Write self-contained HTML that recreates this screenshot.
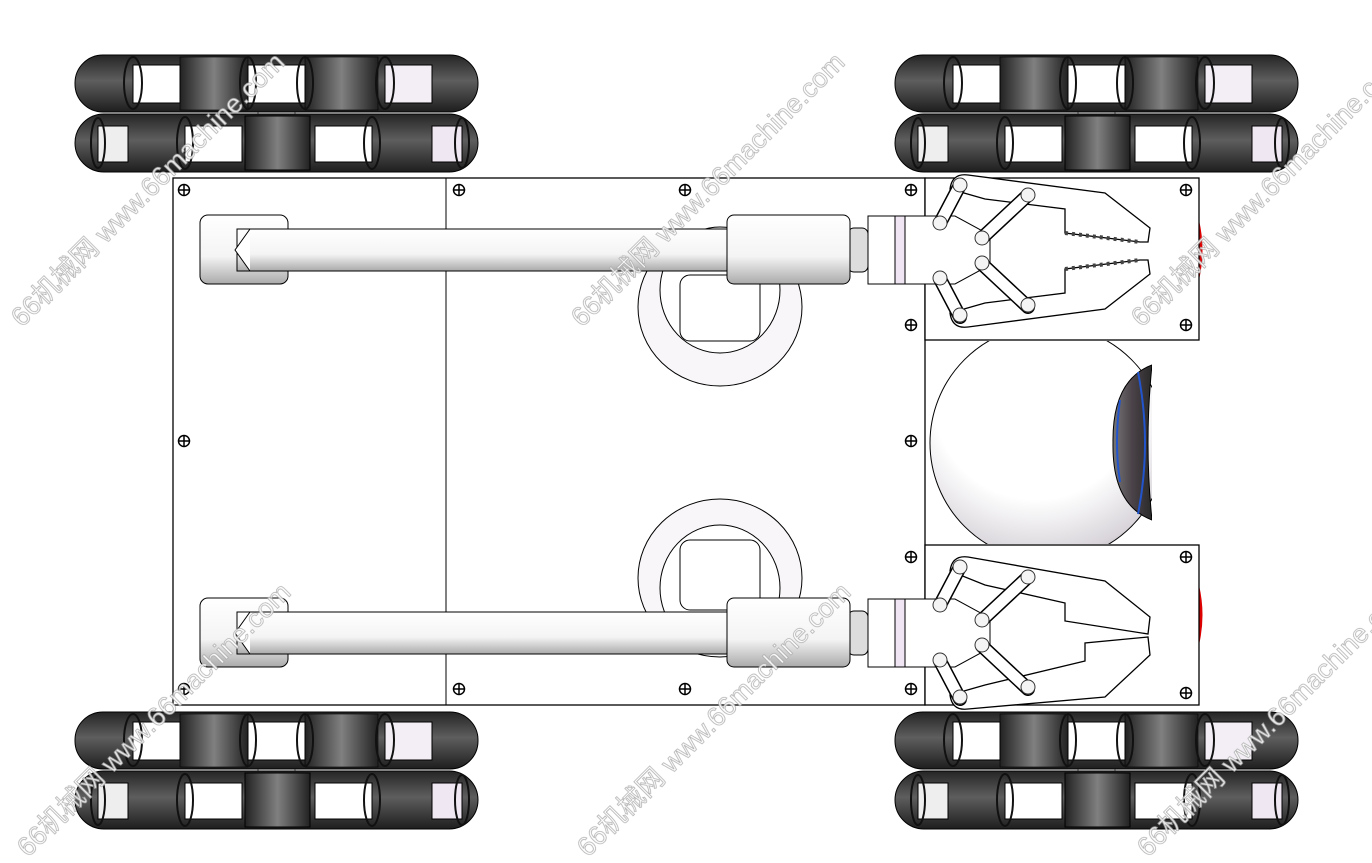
<!DOCTYPE html>
<html><head><meta charset="utf-8"><style>html,body{margin:0;padding:0;background:#fff}svg{display:block}</style></head>
<body>
<svg width="1372" height="863" viewBox="0 0 1372 863" xmlns="http://www.w3.org/2000/svg">
<defs>
<linearGradient id="dk" x1="0" y1="0" x2="0" y2="1">
<stop offset="0" stop-color="#252525"/><stop offset="0.45" stop-color="#5e5e5e"/><stop offset="1" stop-color="#1e1e1e"/></linearGradient>
<linearGradient id="dk2" x1="0" y1="0" x2="1" y2="0">
<stop offset="0" stop-color="#222"/><stop offset="0.5" stop-color="#808080"/><stop offset="1" stop-color="#222"/></linearGradient>
<linearGradient id="rod" x1="0" y1="0" x2="0" y2="1">
<stop offset="0" stop-color="#fff"/><stop offset="0.6" stop-color="#f4f4f4"/><stop offset="1" stop-color="#aaa"/></linearGradient>
<linearGradient id="cav" x1="0" y1="0" x2="1" y2="0">
<stop offset="0" stop-color="#777"/><stop offset="0.5" stop-color="#4a4248"/><stop offset="1" stop-color="#2a2a2a"/></linearGradient>
<radialGradient id="ball" cx="0.45" cy="0.3" r="0.8">
<stop offset="0.55" stop-color="#fff"/><stop offset="0.85" stop-color="#d8d4da"/><stop offset="1" stop-color="#9a949c"/></radialGradient>
<g id="screw"><circle r="5.5" fill="#fff" stroke="#000" stroke-width="1.5"/><path d="M-5.5 0H5.5M0-5.5V5.5" stroke="#000" stroke-width="1.5"/></g>
<g id="row1">
<rect x="0" y="0" width="403" height="57" rx="28" fill="url(#dk)" stroke="#000"/>
<rect x="105" y="2" width="68" height="53" fill="url(#dk2)" stroke="#000" stroke-width="0.6"/>
<rect x="230" y="2" width="73" height="53" fill="url(#dk2)" stroke="#000" stroke-width="0.6"/>
<rect x="58" y="10" width="47" height="38" fill="#fff" stroke="#000"/>
<rect x="173" y="10" width="57" height="38" fill="#fff" stroke="#000"/>
<rect x="310" y="10" width="47" height="38" fill="#f3eef5" stroke="#000"/>
<ellipse cx="58" cy="28" rx="9" ry="26" fill="none" stroke="#111" stroke-width="2"/>
<ellipse cx="173" cy="28" rx="8" ry="26" fill="none" stroke="#111" stroke-width="2"/>
<ellipse cx="230" cy="28" rx="8" ry="26" fill="none" stroke="#111" stroke-width="2"/>
<ellipse cx="310" cy="28" rx="9" ry="26" fill="none" stroke="#111" stroke-width="2"/>
</g>
<g id="row2">
<rect x="0" y="0" width="403" height="58" rx="29" fill="url(#dk)" stroke="#000"/>
<rect x="170" y="2" width="65" height="54" fill="url(#dk2)" stroke="#000"/>
<rect x="23" y="12" width="30" height="36" fill="#eee" stroke="#000"/>
<rect x="110" y="12" width="57" height="36" fill="#fff" stroke="#000"/>
<rect x="240" y="12" width="57" height="36" fill="#fff" stroke="#000"/>
<rect x="357" y="12" width="30" height="36" fill="#efe8f2" stroke="#000"/>
<ellipse cx="110" cy="29" rx="8" ry="26" fill="none" stroke="#111" stroke-width="2"/>
<ellipse cx="297" cy="29" rx="8" ry="26" fill="none" stroke="#111" stroke-width="2"/>
<ellipse cx="23" cy="29" rx="7" ry="25" fill="none" stroke="#111" stroke-width="2"/>
<ellipse cx="387" cy="29" rx="7" ry="25" fill="none" stroke="#111" stroke-width="2"/>
</g>
<g id="wheel">
<rect x="183" y="57" width="37" height="4" fill="#fff" stroke="#000" stroke-width="0.6"/>
<use href="#row1"/>
<use href="#row2" y="59"/>
</g>
<g id="arm">
<rect x="200" y="-35" width="88" height="69" rx="8" fill="url(#rod)" stroke="#000"/>
<rect x="237" y="-21" width="495" height="42" fill="url(#rod)" stroke="#000"/>
<path d="M250 -21 L235 0 L250 21" fill="#fff" stroke="#000"/>
<rect x="848" y="-22" width="20" height="44" rx="6" fill="#ddd" stroke="#000"/>
<rect x="727" y="-35" width="123" height="69" rx="7" fill="url(#rod)" stroke="#000"/>
<rect x="868" y="-34" width="27" height="68" fill="#fff" stroke="#000"/>
<rect x="895" y="-34" width="10" height="68" fill="#f0e6f3" stroke="#000"/>
<path d="M905 -34 H955 L990 -15 V15 L955 34 H905 Z" fill="#fff" stroke="#000"/>
</g>
<g id="links">
<g stroke="#000" stroke-width="14" stroke-linecap="round"><line x1="960" y1="-66" x2="940" y2="-28"/><line x1="1028" y1="-56" x2="982" y2="-13"/><line x1="960" y1="66" x2="940" y2="28"/><line x1="1028" y1="56" x2="982" y2="13"/></g>
<g stroke="#fff" stroke-width="11" stroke-linecap="round"><line x1="960" y1="-66" x2="940" y2="-28"/><line x1="1028" y1="-56" x2="982" y2="-13"/><line x1="960" y1="66" x2="940" y2="28"/><line x1="1028" y1="56" x2="982" y2="13"/></g>
<g fill="#f4f4f4" stroke="#333"><circle cx="960" cy="-66" r="7"/><circle cx="1028" cy="-56" r="7"/><circle cx="940" cy="-28" r="7"/><circle cx="982" cy="-13" r="7"/><circle cx="982" cy="12" r="7"/><circle cx="940" cy="27" r="7"/><circle cx="1028" cy="54" r="7"/><circle cx="960" cy="64" r="7"/></g>
</g>
<g id="grip">
<path d="M950 -62 Q952 -78 968 -76 L1105 -58 L1150 -23 L1148 -9 L1140 -9 L1065 -18 L1065 -42 L985 -52 Z" fill="#fff" stroke="#000" stroke-width="1.3"/>
<path d="M950 62 Q952 78 968 76 L1105 58 L1150 23 L1148 9 L1140 9 L1065 18 L1065 42 L985 52 Z" fill="#fff" stroke="#000" stroke-width="1.3"/>
<path d="M1065 -18 L1140 -9 M1065 18 L1140 9" stroke="#444" stroke-width="4" stroke-dasharray="3 4"/>
<use href="#links"/>
</g>
<g id="grip2">
<path d="M950 -62 Q952 -78 968 -76 L1105 -52 L1150 -16 L1148 1 L1065 -12 L1065 -30 L985 -48 Z" fill="#fff" stroke="#000" stroke-width="1.3"/>
<path d="M950 62 Q952 78 968 76 L1105 64 L1150 22 L1148 4 L1085 10 L1085 28 L985 52 Z" fill="#fff" stroke="#000" stroke-width="1.3"/>
<use href="#links"/>
</g>
</defs>

<use href="#wheel" x="75" y="55"/>
<use href="#wheel" x="895" y="55"/>
<use href="#wheel" x="75" y="712"/>
<use href="#wheel" x="895" y="712"/>

<rect x="173" y="178" width="752" height="527" fill="#fff" stroke="#000" stroke-width="1.3"/>
<line x1="446" y1="178" x2="446" y2="705" stroke="#000"/>
<path d="M1199 220 Q1206 250 1199 280Z M1199 585 Q1206 615 1199 645Z" fill="#d00"/>
<rect x="925" y="178" width="274" height="162" fill="#fff" stroke="#000" stroke-width="1.3"/>
<rect x="925" y="545" width="274" height="160" fill="#fff" stroke="#000" stroke-width="1.3"/>

<g fill="#fff" stroke="#000">
<ellipse cx="720" cy="307" rx="82" ry="79" fill="#f8f6f8"/>
<ellipse cx="720" cy="290" rx="60" ry="63"/>
<rect x="680" y="275" width="80" height="66" rx="10"/>
<ellipse cx="720" cy="578" rx="82" ry="79" fill="#f8f6f8"/>
<ellipse cx="720" cy="588" rx="60" ry="63"/>
<rect x="680" y="540" width="80" height="70" rx="10"/>
</g>

<clipPath id="bc"><rect x="926" y="341" width="226" height="203"/></clipPath>
<g clip-path="url(#bc)">
<circle cx="1048" cy="443" r="118" fill="url(#ball)" stroke="#000"/>
<path d="M1152 365 Q1112 380 1113 443 Q1112 505 1152 520 Q1144 443 1152 365Z" fill="url(#cav)" stroke="#000"/>
<path d="M1138 372 Q1152 443 1138 514" fill="none" stroke="#2255cc" stroke-width="2"/>
<path d="M1120 400 Q1114 443 1120 482" fill="none" stroke="#2255cc" stroke-width="2"/>
</g>

<use href="#arm" y="250"/>
<use href="#arm" y="633"/>
<use href="#grip" y="251"/>
<use href="#grip2" y="633"/>

<g>
<use href="#screw" x="184" y="190"/><use href="#screw" x="459" y="190"/><use href="#screw" x="685" y="190"/><use href="#screw" x="911" y="190"/>
<use href="#screw" x="184" y="441"/><use href="#screw" x="911" y="441"/>
<use href="#screw" x="184" y="689"/><use href="#screw" x="459" y="689"/><use href="#screw" x="685" y="689"/><use href="#screw" x="911" y="689"/>
<use href="#screw" x="911" y="325"/><use href="#screw" x="911" y="557"/>
<use href="#screw" x="1186" y="190"/><use href="#screw" x="1186" y="325"/><use href="#screw" x="1186" y="557"/><use href="#screw" x="1186" y="693"/>
</g>

<g font-family="Liberation Sans, Noto Sans CJK SC, sans-serif" font-size="27" fill="#fff" stroke="#aaa" stroke-width="0.8" opacity="0.9">
<text transform="translate(22,328) rotate(-45)">66机械网 www.66machine.com</text>
<text transform="translate(582,328) rotate(-45)">66机械网 www.66machine.com</text>
<text transform="translate(1142,328) rotate(-45)">66机械网 www.66machine.com</text>
<text transform="translate(28,858) rotate(-45)">66机械网 www.66machine.com</text>
<text transform="translate(588,858) rotate(-45)">66机械网 www.66machine.com</text>
<text transform="translate(1148,858) rotate(-45)">66机械网 www.66machine.com</text>
</g>
</svg>
</body></html>
